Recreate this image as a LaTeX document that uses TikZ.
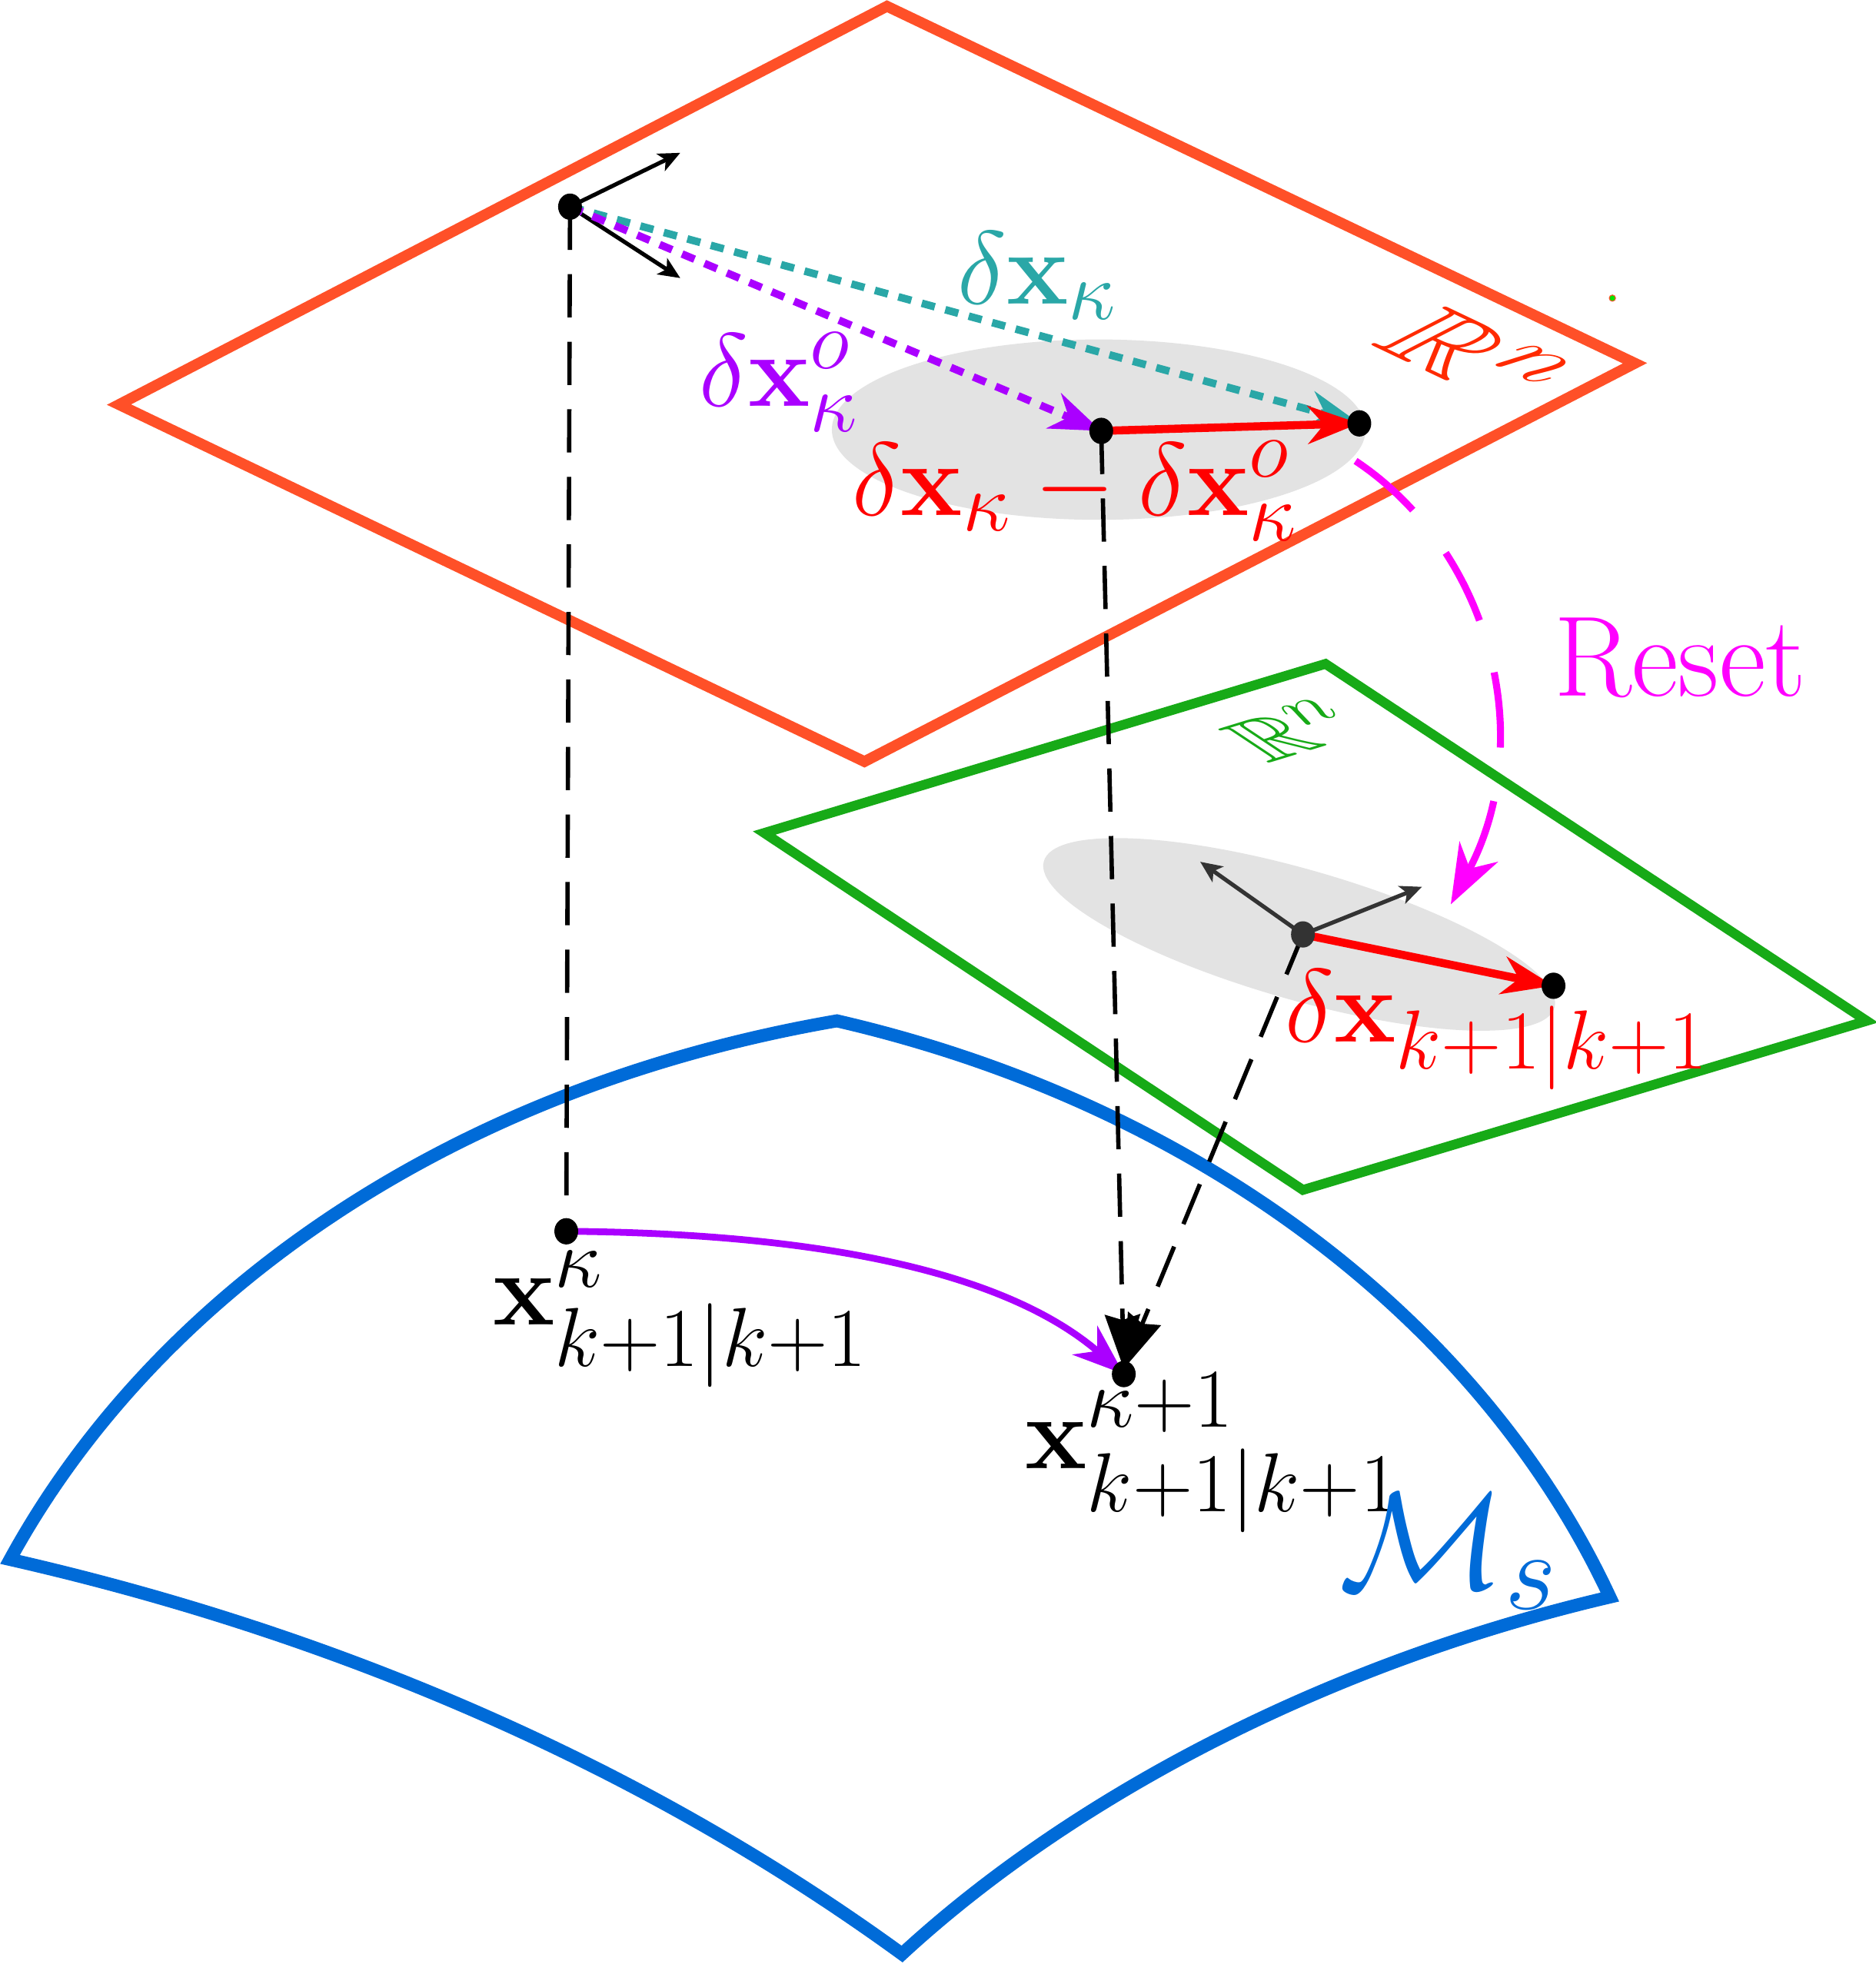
\RequirePackage{fix-cm}
\documentclass[tikz,border=0pt]{standalone}
\usepackage{amsmath,amssymb}
\usetikzlibrary{arrows.meta}
\DeclareMathSizes{38.5}{38.5}{31}{25}
\DeclareMathSizes{22}{22}{18}{14}
\definecolor{planeOr}{HTML}{FF5028}
\definecolor{textOr}{HTML}{FF2A00}
\definecolor{planeGr}{HTML}{17AA17}
\definecolor{manBl}{HTML}{006BD8}
\definecolor{tealc}{HTML}{2AA7A7}
\definecolor{purp}{HTML}{AA00FF}
\definecolor{magc}{HTML}{FF00FF}
\definecolor{ellg}{HTML}{E3E3E3}
\definecolor{dkg}{HTML}{333333}
\begin{document}
\begin{tikzpicture}[x=0.01629cm,y=-0.01629cm,
  lbl/.style={inner sep=0pt, font=\fontsize{38.5}{42}\selectfont},
  smlbl/.style={inner sep=0pt, font=\fontsize{22}{26}\selectfont},
  plane/.style={line width=4pt, line join=miter},
  manif/.style={manBl, line width=4.8pt, line join=miter},
  proj/.style={black, line width=1.6pt, dash pattern=on 16pt off 9pt},
  dotted2/.style={line width=2.8pt, dash pattern=on 5pt off 4pt},
  bigtip/.style={-{Stealth[length=19pt,width=14pt,inset=6pt]}},
  axis/.style={line width=1.5pt, -{Stealth[length=8pt,width=7pt,inset=2pt]}},
  pdot/.style={fill=black}]
\useasboundingbox (0,0) rectangle (1497,1568);

% points
\coordinate (P1) at (455,165);
\coordinate (P2) at (879,344);
\coordinate (P3) at (1085,338);
\coordinate (P4) at (1040,746);
\coordinate (P5) at (1240,787);
\coordinate (Q1) at (452,983);
\coordinate (Q2) at (897,1097);
\coordinate (A1) at (543,122);
\coordinate (A2) at (543,222);
\coordinate (B1) at (958,688);
\coordinate (B2) at (1135,708);
\coordinate (E1) at (877,343);
\coordinate (E2) at (1037,746);
\coordinate (R0) at (1082,368);
\coordinate (R1) at (1158,722);

% manifold
\draw[manif] (668,815) .. controls (350,870) and (120,1040) .. (8,1245)
  .. controls (250,1300) and (500,1400) .. (720,1560)
  .. controls (850,1440) and (1050,1330) .. (1285,1275)
  .. controls (1180,1050) and (950,880) .. cycle;

% orange plane
\draw[planeOr, plane] (708,5) -- (1305,290) -- (690,608) -- (95,323) -- cycle;
% green plane
\draw[planeGr, plane, line width=3.6pt] (1058,530) -- (1490,815) -- (1040,950) -- (610,665) -- cycle;

% ellipses
\fill[ellg] (E1) ellipse [x radius=213, y radius=72];
\fill[ellg, rotate around={-16:(E2)}] (E2) ellipse [x radius=212, y radius=52];

% projection lines
\draw[proj] (P1) -- (Q1);
\draw[proj, -{Stealth[length=20pt,width=13pt,inset=2pt]}] (P2) -- ([yshift=2pt]Q2);
\draw[proj, -{Stealth[length=20pt,width=13pt,inset=2pt]}] (P4) -- ([yshift=2pt]Q2);

% top axes
\draw[axis] (P1) -- (A1);
\draw[axis] (P1) -- (A2);
% dotted arrows
\draw[tealc, dotted2, bigtip] (P1) -- (P3);
\draw[purp, dotted2, bigtip] (P1) -- (P2);
% red difference
\draw[red, line width=3pt, bigtip] (P2) -- (P3);

% lower axes
\draw[dkg, axis] (P4) -- (B1);
\draw[dkg, axis] (P4) -- (B2);
\draw[red, line width=3pt, bigtip] (P4) -- (P5);

% reset
\draw[magc, line width=2.6pt, dash pattern=on 28pt off 20pt,
  -{Stealth[length=22pt,width=16pt,inset=7pt]}]
  (R0) .. controls (1190,440) and (1228,590) .. (R1);

% manifold map
\draw[purp, line width=2.5pt, -{Stealth[length=19pt,width=14pt,inset=6pt]}]
  (Q1) .. controls (700,985) and (820,1030) .. (Q2);

% dots
\fill[pdot] (P1) circle [x radius=9.5, y radius=10.5];
\fill[pdot] (P2) circle [x radius=9.5, y radius=10.5];
\fill[pdot] (P3) circle [x radius=9.5, y radius=10.5];
\fill[dkg] (P4) circle [x radius=9.5, y radius=10.5];
\fill[pdot] (P5) circle [x radius=9.5, y radius=10.5];
\fill[pdot] (Q1) circle [x radius=9.5, y radius=10.5];
\fill[pdot] (Q2) circle [x radius=9.5, y radius=10.5];
\filldraw[fill=green!90!black, draw=planeOr, line width=0.3pt] (1287,238) circle [radius=2.5];

% labels
\node[lbl, text=tealc] (Ldx) at (828,220) {$\delta\mathbf{x}_{\kappa}$};
\node[lbl, text=purp] (Ldxo) at (622,305) {$\delta\mathbf{x}^{o}_{\kappa}$};
\node[lbl, text=red] (Ldiff) at (858,392) {$\delta\mathbf{x}_{\kappa}-\delta\mathbf{x}^{o}_{\kappa}$};
\node[lbl, text=red] (Ldx2) at (1195,822) {$\delta\mathbf{x}_{k+1|k+1}$};
\node[lbl] (Lx1) at (543,1053) {$\mathbf{x}^{\kappa}_{k+1|k+1}$};
\node[lbl] (Lx2) at (968,1160) {$\mathbf{x}^{\kappa+1}_{k+1|k+1}$};
\node[lbl, text=manBl, scale=1.33] (LM) at (1156,1239) {$\mathcal{M}_{s}$};
\node[lbl, text=magc, scale=1.1] (LR) at (1341,525) {Reset};

\begin{scope}[shift={(1177,284)}]
\node[lbl, text=textOr, transform shape, cm={1.07,-0.51,1.05,0.54,(0,0)}] (Rn1) at (0,0) {$\mathbb{R}^{n}$};
\end{scope}
\begin{scope}[shift={(1032,583)}]
\node[smlbl, text=planeGr, transform shape, cm={1.44,0.44,-1.25,0.83,(0,0)}] (Rn2) at (0,0) {$\mathbb{R}^{n}$};
\end{scope}
\end{tikzpicture}
\end{document}
